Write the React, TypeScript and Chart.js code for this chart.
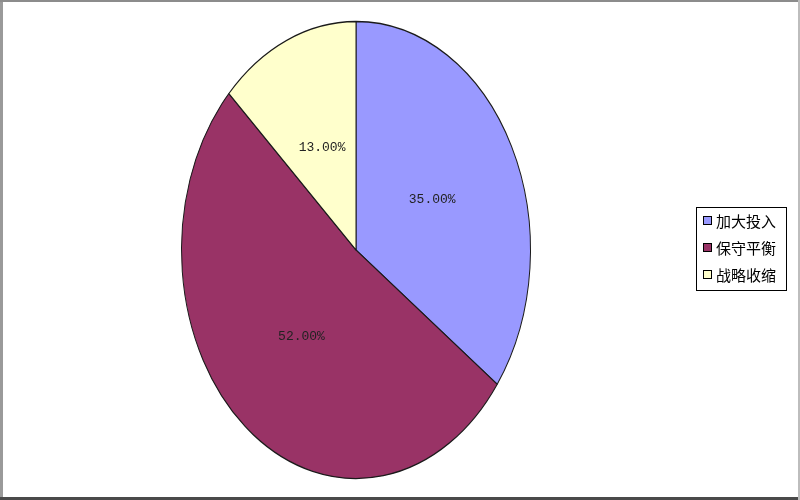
import React, { useEffect, useRef } from "react";
import { Chart, registerables } from "chart.js";

Chart.register(...registerables);

const categories = ["加大投入", "保守平衡", "战略收缩"];
const shares = [35, 52, 13];
const sliceColors = ["#9999FF", "#993366", "#FFFFCC"];

const STRETCH_Y = 228.5 / 174.5;

export default function App() {
  const ref = useRef<HTMLCanvasElement | null>(null);

  useEffect(() => {
    const canvas = ref.current;
    if (!canvas) return;

    const framePlugin = {
      id: "frame",
      beforeDraw(chart: any) {
        const ctx = chart.ctx;
        ctx.save();
        ctx.fillStyle = "#ffffff";
        ctx.fillRect(0, 0, chart.width, chart.height);
        ctx.fillStyle = "#9a9a9a";
        ctx.fillRect(0, 0, 3, chart.height);
        ctx.fillStyle = "#8c8c8c";
        ctx.fillRect(0, 0, chart.width, 2);
        ctx.fillStyle = "#4a4a4a";
        ctx.fillRect(0, chart.height - 3, chart.width, 3);
        ctx.fillStyle = "#bdbdbd";
        ctx.fillRect(chart.width - 2, 0, 2, chart.height);
        ctx.restore();
      },
    };

    const ellipsePlugin = {
      id: "ellipse",
      beforeDatasetsDraw(chart: any) {
        const arc = chart.getDatasetMeta(0).data[0];
        const ctx = chart.ctx;
        ctx.save();
        ctx.translate(arc.x, arc.y);
        ctx.scale(1, STRETCH_Y);
        ctx.translate(-arc.x, -arc.y);
      },
      afterDatasetsDraw(chart: any) {
        const ctx = chart.ctx;
        ctx.restore();
        const meta = chart.getDatasetMeta(0);
        const total = shares.reduce((a, b) => a + b, 0);
        ctx.save();
        ctx.font = '13px "Liberation Mono", "DejaVu Sans Mono", monospace';
        ctx.fillStyle = "#222222";
        ctx.textAlign = "center";
        ctx.textBaseline = "middle";
        meta.data.forEach((a: any, i: number) => {
          const mid = (a.startAngle + a.endAngle) / 2;
          const r = a.outerRadius * 0.49;
          const x = a.x + Math.cos(mid) * r;
          const y = a.y + Math.sin(mid) * r * STRETCH_Y;
          const pct = ((shares[i] / total) * 100).toFixed(2) + "%";
          ctx.fillText(pct, x, y);
        });
        ctx.restore();
      },
    };

    const legendPlugin = {
      id: "boxLegend",
      afterDraw(chart: any) {
        const ctx = chart.ctx;
        ctx.save();
        ctx.strokeStyle = "#000000";
        ctx.lineWidth = 1;
        ctx.strokeRect(696.5, 207.5, 90, 83);
        ctx.font = '15px "Noto Sans CJK SC", sans-serif';
        ctx.textBaseline = "middle";
        ctx.textAlign = "left";
        categories.forEach((c, i) => {
          const y = 221 + i * 27;
          ctx.fillStyle = sliceColors[i];
          ctx.fillRect(703, y - 5, 9, 9);
          ctx.strokeStyle = "#000000";
          ctx.strokeRect(703.5, y - 4.5, 8, 8);
          ctx.fillStyle = "#000000";
          ctx.fillText(c, 716, y);
        });
        ctx.restore();
      },
    };

    const chart = new Chart(canvas, {
      type: "pie",
      data: {
        labels: categories,
        datasets: [
          {
            data: shares,
            backgroundColor: sliceColors,
            borderColor: "#1a1a1a",
            borderWidth: 1,
          },
        ],
      },
      options: {
        responsive: false,
        animation: false,
        layout: { padding: { left: 181, right: 269, top: 75, bottom: 75 } },
        plugins: {
          legend: { display: false },
          tooltip: { enabled: false },
        },
      },
      plugins: [framePlugin, ellipsePlugin, legendPlugin],
    });

    return () => chart.destroy();
  }, []);

  return (
    <div style={{ position: "absolute", left: 0, top: 0, width: 800, height: 500 }}>
      <canvas ref={ref} width={800} height={500} style={{ display: "block" }} />
    </div>
  );
}
